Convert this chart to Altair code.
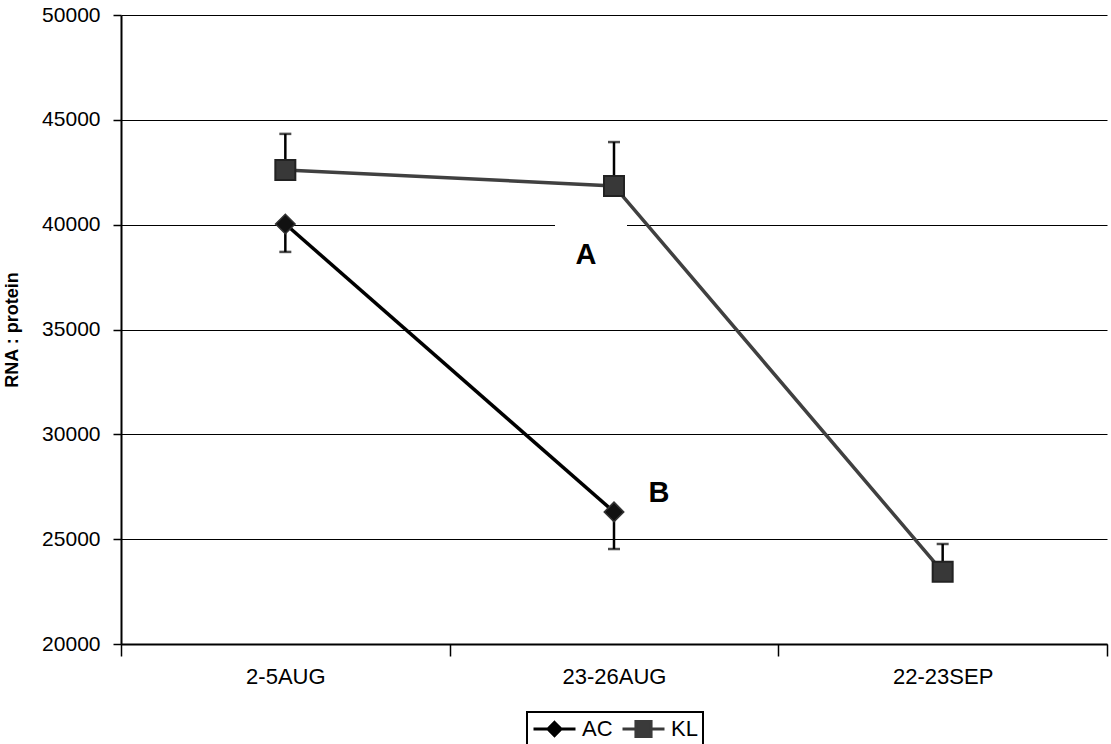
import altair as alt
import pandas as pd

categories = ["2-5AUG", "23-26AUG", "22-23SEP"]
series_names = ["AC", "KL"]

ac_values = [40030, 26300]
ac_err_low = [38700, 24530]
ac_cats = ["2-5AUG", "23-26AUG"]

kl_values = [42610, 41850, 23440]
kl_err_high = [44330, 43940, 24770]
kl_cats = ["2-5AUG", "23-26AUG", "22-23SEP"]

ann_labels = ["A", "B"]
ann_cats = ["23-26AUG", "23-26AUG"]
ann_values = [38560, 27200]

y_ticks = [20000, 25000, 30000, 35000, 40000, 45000, 50000]

rows = []
for c, v, lo in zip(ac_cats, ac_values, ac_err_low):
    rows.append({"series": "AC", "cat": c, "value": v, "err_a": v, "err_b": lo})
for c, v, hi in zip(kl_cats, kl_values, kl_err_high):
    rows.append({"series": "KL", "cat": c, "value": v, "err_a": v, "err_b": hi})
df = pd.DataFrame(rows)

ann = pd.DataFrame({"label": ann_labels, "cat": ann_cats, "value": ann_values})

FONT = "Liberation Sans"

xenc = alt.X("cat:N", sort=categories, scale=alt.Scale(domain=categories),
             axis=alt.Axis(title=None, tickBand="extent", labelFontSize=22, labelColor="black",
                           labelFont=FONT, labelPadding=20, labelAlign="center", tickSize=12,
                           tickColor="black", tickWidth=1.5, domainColor="black", domainWidth=2,
                           labelAngle=0, grid=False))
yscale = alt.Scale(domain=[20000, 50000], nice=False, zero=False)
yenc = alt.Y("value:Q", scale=yscale,
             axis=alt.Axis(title="RNA : protein", values=y_ticks, format="d", labelFontSize=21,
                           labelColor="black", labelFont=FONT, labelPadding=13, tickSize=8,
                           tickColor="black", tickWidth=1.5, domainColor="black", domainWidth=2,
                           grid=True, gridColor="black", gridWidth=1.2, titleFont=FONT,
                           titleFontSize=18, titleFontWeight="bold", titleColor="black",
                           titlePadding=20))

base = alt.Chart(df)

white_box = alt.Chart(ann).transform_filter(alt.datum.label == "A").mark_point(
    shape="square", filled=True, color="white", opacity=1, size=72 * 72, xOffset=-23
).encode(x=alt.X("cat:N", sort=categories), y=alt.Y("value:Q"))

ac_line = base.transform_filter(alt.datum.series == "AC").mark_line(
    color="black", strokeWidth=3.5).encode(x=xenc, y=yenc)
kl_line = base.transform_filter(alt.datum.series == "KL").mark_line(
    color="#404040", strokeWidth=3.5).encode(x=xenc, y=yenc)

err_rule = base.mark_rule(color="black", strokeWidth=2.5).encode(
    x=alt.X("cat:N", sort=categories), y=alt.Y("err_a:Q"), y2="err_b:Q")
err_cap = base.mark_tick(color="black", thickness=2.5, size=12, orient="horizontal").encode(
    x=alt.X("cat:N", sort=categories), y=alt.Y("err_b:Q"))

ac_pts = base.transform_filter(alt.datum.series == "AC").mark_point(
    shape="diamond", filled=True, fill="#111111", stroke="#333333", strokeWidth=1.5,
    size=380, opacity=1).encode(x=alt.X("cat:N", sort=categories), y=alt.Y("value:Q"))
kl_pts = base.transform_filter(alt.datum.series == "KL").mark_point(
    shape="square", filled=True, fill="#383838", stroke="#222222", strokeWidth=2,
    size=400, opacity=1).encode(x=alt.X("cat:N", sort=categories), y=alt.Y("value:Q"))

ac_path = "M-1,0L-0.3,0M0.3,0L1,0M0,-0.31L0.31,0L0,0.31L-0.31,0Z"
kl_path = "M-1,0L-0.36,0M0.36,0L1,0M-0.36,-0.36L0.36,-0.36L0.36,0.36L-0.36,0.36Z"

legend = alt.Legend(title=None, orient="none", legendX=406, legendY=697, direction="horizontal",
                    labelFontSize=22, labelFont=FONT, labelColor="black", symbolSize=1764,
                    symbolStrokeWidth=3, symbolOpacity=1, clipHeight=24, padding=5,
                    labelOffset=5, columnPadding=8, strokeColor="black")

color_scale = alt.Scale(domain=series_names, range=["#000000", "#3a3a3a"])

legend_layer = base.transform_filter(alt.datum.cat == "2-5AUG").mark_point(
    filled=False, opacity=0, strokeWidth=3).encode(
    x=alt.X("cat:N", sort=categories), y=alt.Y("value:Q"),
    color=alt.Color("series:N", scale=color_scale, legend=legend),
    fill=alt.Fill("series:N", scale=color_scale, legend=legend),
    shape=alt.Shape("series:N", scale=alt.Scale(domain=series_names, range=[ac_path, kl_path]),
                    legend=legend),
)

text_a = alt.Chart(ann).transform_filter(alt.datum.label == "A").mark_text(
    fontSize=29, fontWeight="bold", font=FONT, color="black", dx=-28).encode(
    x=alt.X("cat:N", sort=categories), y=alt.Y("value:Q"), text="label:N")
text_b = alt.Chart(ann).transform_filter(alt.datum.label == "B").mark_text(
    fontSize=29, fontWeight="bold", font=FONT, color="black", dx=45).encode(
    x=alt.X("cat:N", sort=categories), y=alt.Y("value:Q"), text="label:N")

chart = alt.layer(
    white_box, ac_line, kl_line, err_rule, err_cap, ac_pts, kl_pts, legend_layer, text_a, text_b
).properties(
    width=986, height=629,
    autosize=alt.AutoSizeParams(type="none"),
    padding={"left": 121, "top": 15, "right": 4, "bottom": 100},
    background="white",
).configure_view(stroke=None).configure_legend(strokeWidth=2)

chart.save("out.html", embed_options={"renderer": "svg", "actions": False})
